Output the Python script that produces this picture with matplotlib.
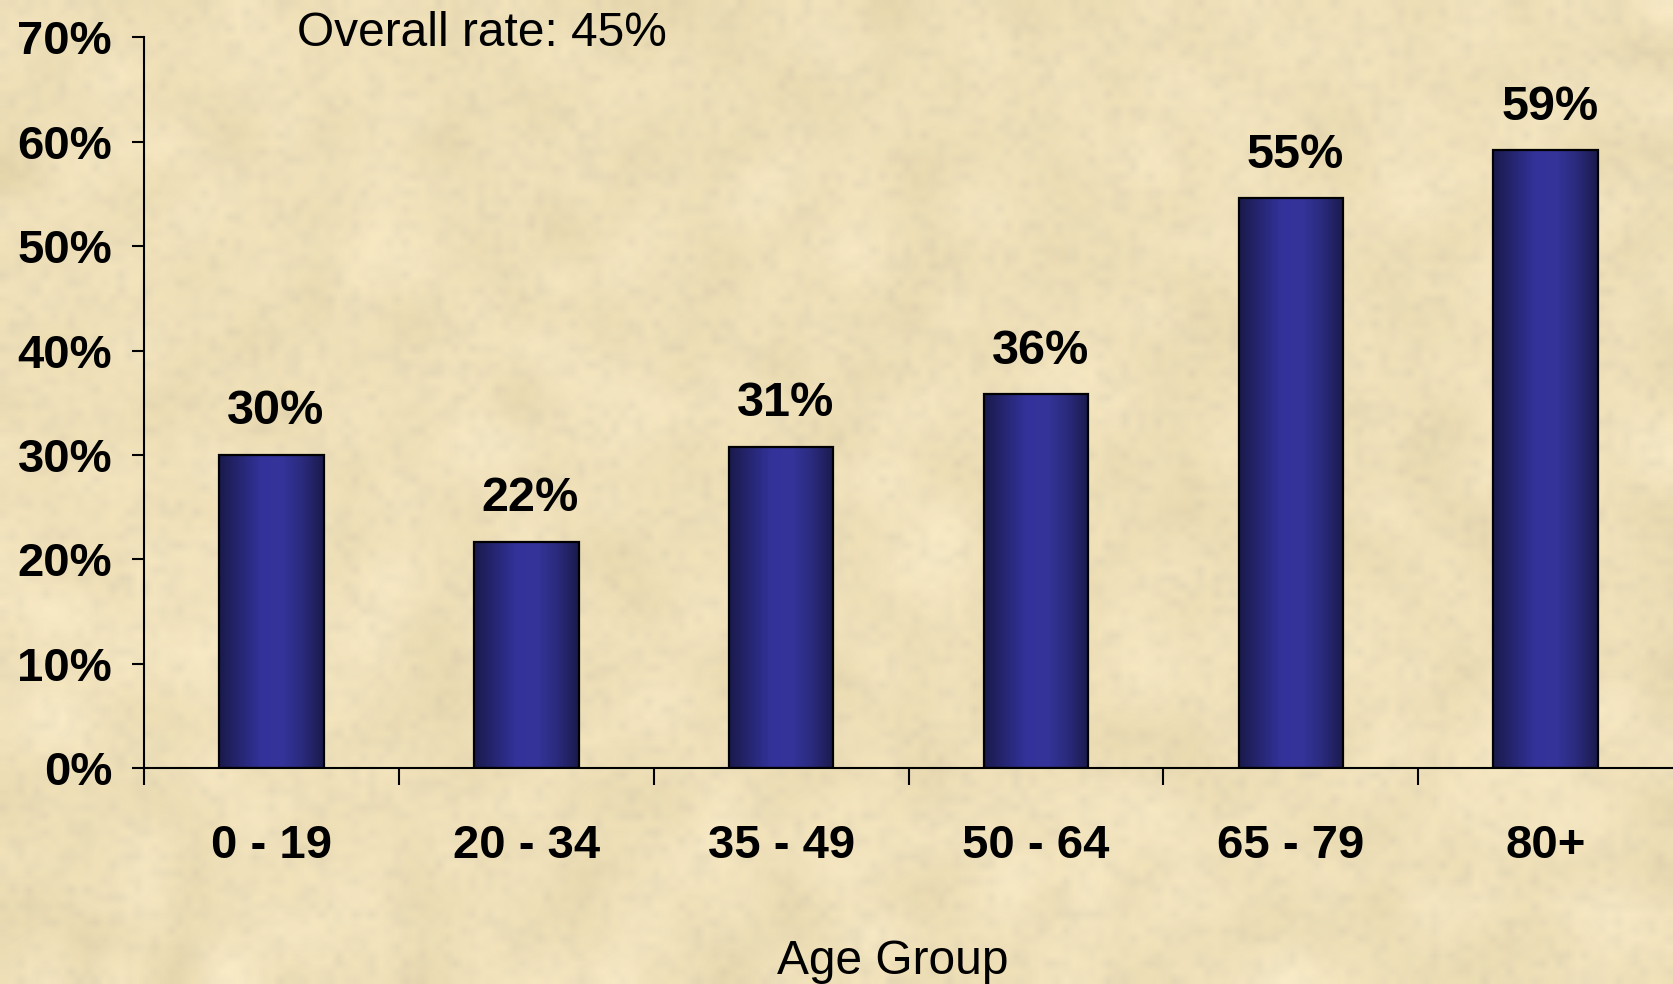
import numpy as np
import matplotlib
matplotlib.use("Agg")
import matplotlib.pyplot as plt
from matplotlib.colors import LinearSegmentedColormap

plt.rcParams['font.family'] = ['Liberation Sans', 'DejaVu Sans']

# data
groups = ['0 - 19', '20 - 34', '35 - 49', '50 - 64', '65 - 79', '80+']
rates = [0.300, 0.217, 0.308, 0.358, 0.546, 0.592]
rate_labels = ['30%', '22%', '31%', '36%', '55%', '59%']
yticks = [0.0, 0.1, 0.2, 0.3, 0.4, 0.5, 0.6, 0.7]
ytick_labels = ['0%', '10%', '20%', '30%', '40%', '50%', '60%', '70%']
overall_note = 'Overall rate: 45%'
xlabel = 'Age Group'

fig = plt.figure(figsize=(16.73, 9.84), dpi=100)

# parchment background (decoration only)
rng = np.random.default_rng(7)
coarse = rng.normal(0, 1, (30, 50))
fine = rng.normal(0, 1, (120, 200))
bg = fig.add_axes([0, 0, 1, 1])
base = np.array([242, 227, 187]) / 255.0
paper = np.ones((30, 50, 3)) * base
paper += coarse[..., None] * np.array([0.018, 0.020, 0.026])
bg.imshow(np.clip(paper, 0, 1), extent=[0, 1, 0, 1], aspect='auto',
          interpolation='bicubic')
paper2 = np.zeros((120, 200, 4))
paper2[..., :3] = 0.55
paper2[..., 3] = np.clip(np.abs(fine) * 0.05, 0, 0.12)
bg.imshow(paper2, extent=[0, 1, 0, 1], aspect='auto', interpolation='bilinear')
bg.set_xlim(0, 1)
bg.set_ylim(0, 1)
bg.axis('off')

ax = fig.add_axes([0.0861, 0.2195, 0.9139, 0.7425])
ax.patch.set_alpha(0)

x = np.arange(len(groups))
bars = ax.bar(x, rates, width=0.41, color='none', edgecolor='black',
              linewidth=1.6, zorder=3)

cmap = LinearSegmentedColormap.from_list(
    'barshade', ['#1a1a4c', '#262673', '#32329a', '#34349b', '#2a2a7c', '#1a1a4c'])
grad = np.linspace(0, 1, 256).reshape(1, -1)
for b in bars:
    im = ax.imshow(grad, cmap=cmap, aspect='auto', zorder=2,
                   extent=[b.get_x(), b.get_x() + b.get_width(), 0, b.get_height()])
    im.set_clip_path(b)

for xi, v, lab in zip(x, rates, rate_labels):
    ax.annotate(lab, (xi, v), xytext=(3, 22), textcoords='offset points',
                ha='center', va='baseline', fontsize=35, fontweight='bold')

ax.set_xlim(-0.5, 5.5)
ax.set_ylim(0, 0.7)

ax.spines['top'].set_visible(False)
ax.spines['right'].set_visible(False)
ax.spines['left'].set_linewidth(1.5)
ax.spines['bottom'].set_linewidth(1.5)

ax.set_xticks(x)
ax.set_xticklabels(groups, fontsize=34, fontweight='bold')
ax.set_xticks(np.arange(-0.5, 5.0, 1.0), minor=True)
ax.tick_params(axis='x', which='major', length=0, pad=40)
ax.tick_params(axis='x', which='minor', length=12, width=1.5, direction='out')

ax.set_yticks(yticks)
ax.set_yticklabels(ytick_labels, fontsize=34, fontweight='bold')
ax.tick_params(axis='y', length=9, width=1.5, direction='out', pad=14)

fig.text(297 / 1673, 1 - 33 / 984, overall_note, fontsize=34.5,
         ha='left', va='center')
fig.text(893 / 1673, 1 - 961 / 984, xlabel, fontsize=34.5,
         ha='center', va='center')

fig.savefig('out.png', dpi=100)
